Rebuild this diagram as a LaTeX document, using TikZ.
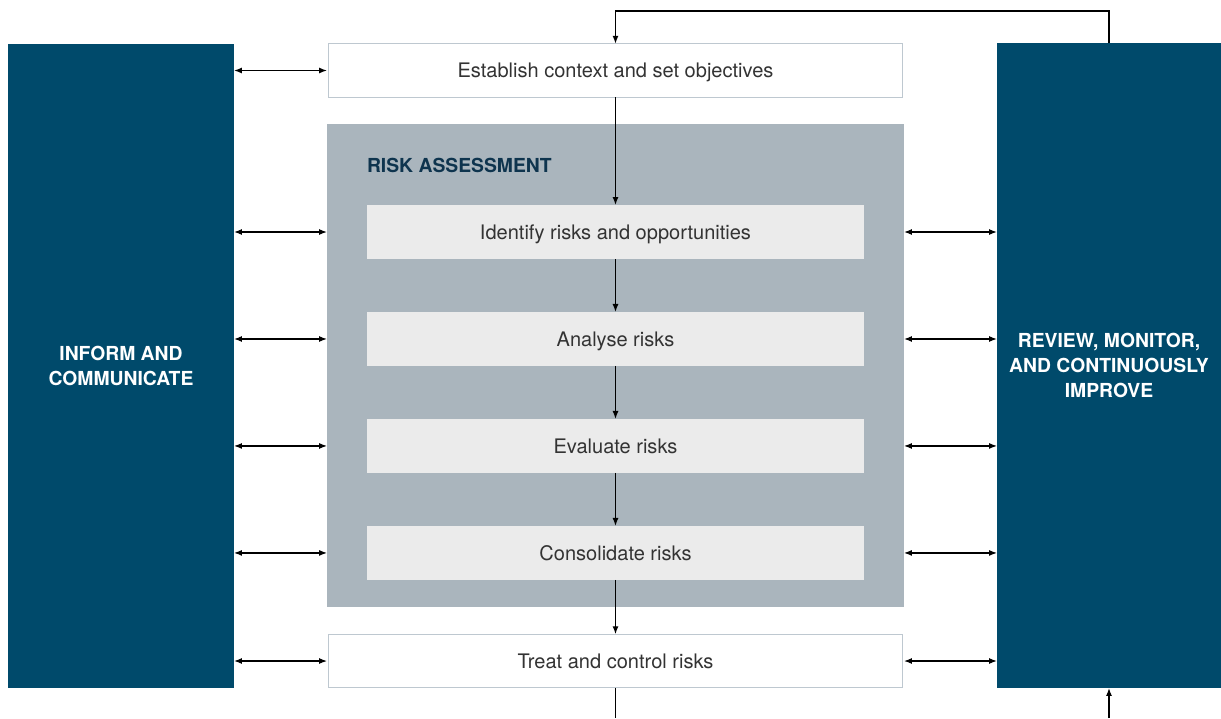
\documentclass[tikz,border=0pt]{standalone}
\usepackage{fontspec}
\setmainfont{TeX Gyre Heros}
\usetikzlibrary{positioning, arrows.meta, calc}
\definecolor{navy}{RGB}{0,74,107}
\definecolor{slate}{RGB}{170,181,189}
\definecolor{pale}{RGB}{235,235,235}
\definecolor{rim}{RGB}{190,200,208}
\definecolor{ink}{RGB}{51,51,51}
\definecolor{title}{RGB}{14,52,78}

\begin{document}
\begin{tikzpicture}[x=0.02cm, y=-0.02cm, node distance=1.06cm, outer sep=0pt,
		txt/.style={font=\fontsize{11.4}{13}\selectfont, text=ink, text depth=0pt},
		band/.style={draw=rim, fill=white, line width=0.6pt, minimum width=11.5cm, minimum height=1.07cm, txt},
		stp/.style={fill=pale, minimum width=9.94cm, minimum height=1.08cm, txt},
		side/.style={fill=navy, text=white, align=center, font=\bfseries\fontsize{11}{14}\selectfont},
		arr/.style={-{Latex[length=1.6mm,width=1.2mm]}, line width=0.7pt},
		dbl/.style={{Latex[length=1.6mm,width=1.2mm]}-{Latex[length=1.6mm,width=1.2mm]}, line width=0.7pt}]
		\useasboundingbox (0,0) rectangle (1221,718);
		\node[side, minimum width=4.52cm, minimum height=12.88cm] (inf) at (121,366) {INFORM AND\\COMMUNICATE};
		\node[side, minimum width=4.48cm, minimum height=12.9cm] (rev) at (1109,365.5) {REVIEW, MONITOR,\\AND CONTINUOUSLY\\IMPROVE};
		\node[fill=slate, minimum width=11.54cm, minimum height=9.66cm] (ra) at (615.5,365.5) {};
		\node[anchor=west, inner sep=0pt, text=title, font=\bfseries\fontsize{11}{13}\selectfont] (rat) at (367,165) {RISK ASSESSMENT};
		\node[band] (ctx) at (615.5,70.5) {Establish context and set objectives};
		\node[stp] (id) at (615.5,232) {Identify risks and opportunities};
		\node[stp] (an) [below=of id] {Analyse risks};
		\node[stp] (ev) [below=of an] {Evaluate risks};
		\node[stp] (co) [below=of ev] {Consolidate risks};
		\node[band] (tr) at (615.5,661) {Treat and control risks};
		% flow down the middle
		\draw[arr] (ctx) -- (id); \draw[arr] (id) -- (an); \draw[arr] (an) -- (ev); \draw[arr] (ev) -- (co); \draw[arr] (co) -- (tr);
		% links to the side columns
		\foreach \n in {ctx,id,an,ev,co,tr} \draw[dbl] (inf.east |- \n) -- (\n -| ra.west);
		\foreach \n in {id,an,ev,co,tr} \draw[dbl] (\n -| ra.east) -- (rev.west |- \n);
		% loop back
		\draw[arr] (rev.north) -- ++(0,-32) -| (ctx.north);
		\coordinate (b1) at (616,718); \coordinate (b2) at (1110,718);
		\draw[line width=0.7pt] (tr.south) -- (tr.south |- b1);
		\draw[arr] (rev.south |- b2) -- (rev.south);
	\end{tikzpicture}
\end{document}
